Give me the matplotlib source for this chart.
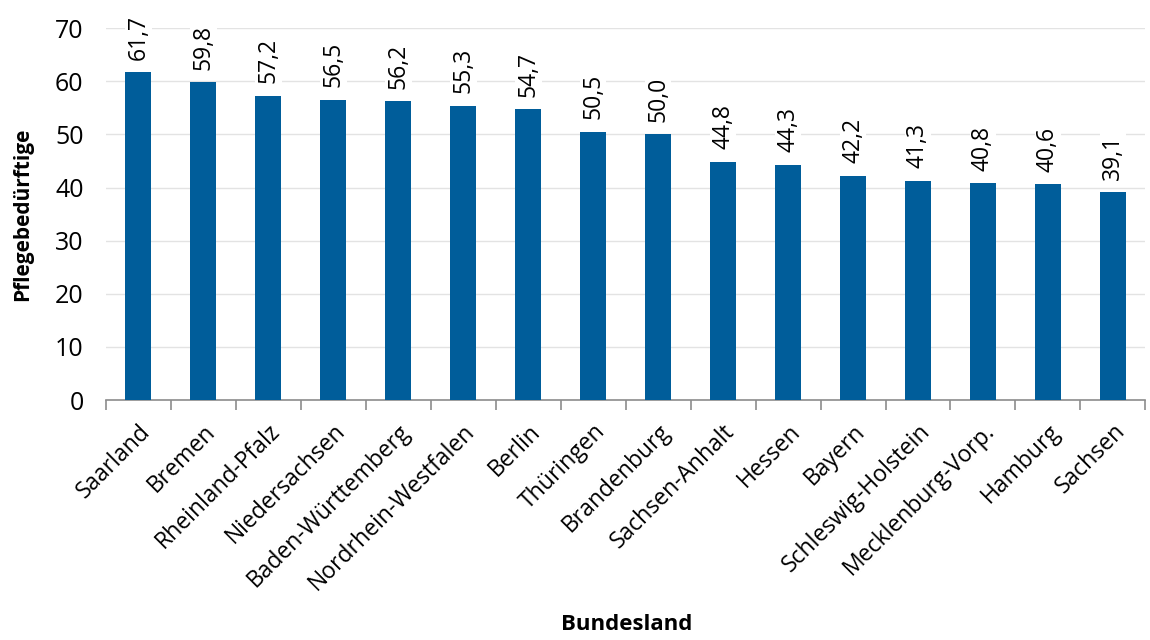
import matplotlib.pyplot as plt
import numpy as np

laender = ["Saarland", "Bremen", "Rheinland-Pfalz", "Niedersachsen",
           "Baden-Württemberg", "Nordrhein-Westfalen", "Berlin", "Thüringen",
           "Brandenburg", "Sachsen-Anhalt", "Hessen", "Bayern",
           "Schleswig-Holstein", "Mecklenburg-Vorp.", "Hamburg", "Sachsen"]
werte = [61.7, 59.8, 57.2, 56.5, 56.2, 55.3, 54.7, 50.5,
         50.0, 44.8, 44.3, 42.2, 41.3, 40.8, 40.6, 39.1]

plt.rcParams['font.family'] = ['Open Sans', 'DejaVu Sans']

fig = plt.figure(figsize=(11.5, 6.4), dpi=100)
ax = fig.add_axes([0.092, 0.375, 0.904, 0.581])

x = np.arange(len(laender))
ax.bar(x, werte, width=0.4, color='#005D9A', zorder=3)

ax.set_xlim(-0.5, len(laender) - 0.5)
ax.set_ylim(0, 70)
ax.set_yticks(range(0, 71, 10))
ax.yaxis.grid(True, color='#e3e3e3', linewidth=1, zorder=0)
ax.set_axisbelow(True)

for s in ['top', 'right', 'left']:
    ax.spines[s].set_visible(False)
ax.spines['bottom'].set_color('#8c8c8c')
ax.spines['bottom'].set_linewidth(1.2)

ax.tick_params(axis='y', length=0, labelsize=18, pad=16)
ax.set_xticks(np.arange(-0.5, len(laender), 1), minor=False)
ax.set_xticklabels([])
ax.set_xticks(x, minor=True)
ax.set_xticklabels(laender, minor=True, rotation=45, ha='right',
                   rotation_mode='anchor', fontsize=16.5)
ax.tick_params(axis='x', which='major', length=7, color='#8c8c8c', width=1.2)
ax.tick_params(axis='x', which='minor', length=0, pad=14)

for xi, v in zip(x, werte):
    ax.text(xi, v + 2.4, f"{v:.1f}".replace('.', ','), rotation=90,
            ha='center', va='bottom', fontsize=16.5, clip_on=False, zorder=4,
            bbox=dict(facecolor='white', edgecolor='none', pad=1))

ax.set_ylabel("Pflegebedürftige", fontsize=15, fontweight='bold', labelpad=16)
fig.text(0.545, 0.008, "Bundesland", ha='center', va='bottom',
         fontsize=16, fontweight='bold')

fig.savefig("out.png", dpi=100)
